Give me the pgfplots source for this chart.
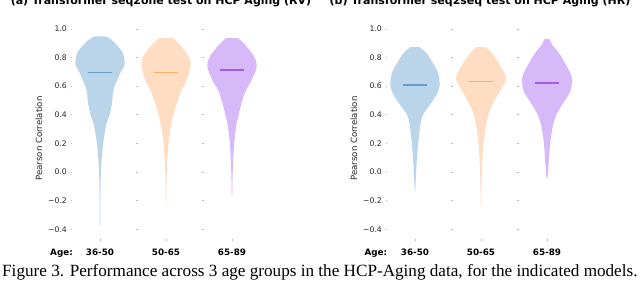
\documentclass[border=0pt]{standalone}
\usepackage{pgfplots}
\pgfplotsset{compat=1.18}
\usepackage{pgfplotstable}
\usepackage{fontspec}
\setmainfont{DejaVu Sans}
\newfontfamily\capfont{Liberation Serif}

\definecolor{vblue}{HTML}{BAD4E9}
\definecolor{vorange}{HTML}{FFDDC2}
\definecolor{vpurple}{HTML}{D7B9F9}
\definecolor{mblue}{HTML}{62A0CA}
\definecolor{morange}{HTML}{FFAE66}
\definecolor{mpurple}{HTML}{A45CF0}

% half widths w in px (1 category = 66 px)
\pgfplotstableread{
y w
0.946 6
0.93 10
0.91 13.5
0.888 16.7
0.865 19.5
0.842 22
0.81 23.8
0.772 24.7
0.74 24.3
0.725 23
0.695 20.5
0.667 18.7
0.632 16.7
0.597 14.5
0.562 13
0.516 12.5
0.47 11.7
0.435 10.7
0.40 9.7
0.365 7.7
0.33 6
0.272 4.7
0.214 3.3
0.156 2.5
0.098 1.7
-0.02 0.8
-0.137 0.5
-0.25 0.4
-0.37 0.3
}\Lone
\pgfplotstableread{
y w
0.935 6.7
0.91 11
0.888 14
0.865 17
0.842 19.3
0.81 22.5
0.772 24.3
0.74 24.7
0.725 24.3
0.695 23.3
0.667 21.8
0.632 20.3
0.597 17.5
0.562 15
0.516 12.7
0.47 10.3
0.40 7.3
0.33 5
0.272 3.8
0.214 2.7
0.098 1.3
-0.02 0.7
-0.137 0.4
-0.205 0.3
}\Ltwo
\pgfplotstableread{
y w
0.935 6
0.91 10
0.888 13
0.865 16
0.842 18.3
0.81 22
0.772 24.3
0.74 24.7
0.725 24.5
0.695 23
0.667 21.2
0.632 19
0.597 16
0.562 13.3
0.516 11
0.47 9
0.40 6.7
0.33 4.3
0.272 3.2
0.214 2.3
0.156 1.7
0.098 1.2
-0.02 0.6
-0.10 0.4
-0.17 0.3
}\Lthree
\pgfplotstableread{
y w
0.872 4.7
0.85 8.5
0.83 11.7
0.80 14.5
0.772 17
0.735 20
0.702 22.5
0.665 24
0.632 24.5
0.61 24.8
0.58 24
0.54 21.7
0.505 18.5
0.47 15
0.445 12.5
0.423 10
0.40 8
0.377 6.7
0.33 5.3
0.272 4.2
0.214 3.3
0.156 2.6
0.098 2
0.04 1.4
-0.02 1
-0.08 0.6
-0.135 0.3
}\Rone
\pgfplotstableread{
y w
0.872 5
0.85 8
0.83 11
0.80 14
0.772 16.7
0.735 20
0.702 22.7
0.68 24.3
0.655 25
0.632 24.5
0.60 22
0.562 18.7
0.516 15
0.47 11.3
0.435 9
0.40 7.3
0.33 5
0.272 3.8
0.214 2.7
0.156 2
0.098 1.5
-0.02 0.8
-0.12 0.5
-0.23 0.3
}\Rtwo
\pgfplotstableread{
y w
0.928 2.5
0.91 3.8
0.888 5
0.865 8
0.842 10.7
0.81 14
0.772 17
0.735 20
0.702 22.5
0.68 24
0.656 25
0.62 24.8
0.59 24.3
0.562 23.3
0.516 19.5
0.47 15
0.435 12
0.40 9.3
0.365 7.5
0.33 6
0.272 4.5
0.214 3.3
0.156 2.6
0.098 2
0.028 1.3
-0.042 0.5
}\Rthree

% make each table a closed outline: right side downwards, left side upwards
\newcommand{\closeviolin}[1]{%
  \pgfplotstablecreatecol[expr={1}]{s}{#1}%
  \pgfplotstablesort[sort key=y]{\tmprev}{#1}%
  \pgfplotstablemodifyeachcolumnelement{s}\of\tmprev\as\cell{\def\cell{-1}}%
  \pgfplotstablevertcat{#1}{\tmprev}%
}
\closeviolin{\Lone}\closeviolin{\Ltwo}\closeviolin{\Lthree}
\closeviolin{\Rone}\closeviolin{\Rtwo}\closeviolin{\Rthree}

\pgfplotsset{
  vstyle/.style={
    x=66pt, y=143.3pt,
    xmin=-0.42, xmax=2.5, ymin=-0.47, ymax=1.0,
    anchor=south west,
    axis line style={draw=none},
    clip=false,
    xtick={0,1,2},
    xticklabels={36-50,50-65,65-89},
    ytick={-0.4,-0.2,0,0.2,0.4,0.6,0.8,1.0},
    yticklabels={−0.4,−0.2,0.0,0.2,0.4,0.6,0.8,1.0},
    tick align=outside, major tick length=1.6pt,
    tick style={gray!55, line width=0.5pt},
    xtick pos=bottom, ytick pos=left,
    yticklabel style={font=\fontsize{7.7}{9}\selectfont, text=black!85, xshift=-0.3pt},
    xticklabel style={font=\fontsize{8.8}{10}\selectfont\bfseries, text=black, yshift=-4pt},
    ylabel={Pearson Correlation},
    ylabel style={font=\fontsize{8.6}{9}\selectfont, text=black!85, at={(rel axis cs:0,0.479)}, anchor=center, yshift=33.5pt},
  }
}

\begin{document}
\begin{tikzpicture}
\path[use as bounding box] (0pt,0pt) rectangle (640pt,-282pt);
\clip (0pt,0pt) rectangle (640pt,-282pt);

% ---- left panel
\begin{axis}[vstyle, at={(72.3pt,-239.4pt)}]
\addplot[fill=vblue, draw=none] table[x expr={0+\thisrow{s}*\thisrow{w}/66}, y=y]{\Lone};
\addplot[fill=vorange, draw=none] table[x expr={1+\thisrow{s}*\thisrow{w}/66}, y=y]{\Ltwo};
\addplot[fill=vpurple, draw=none] table[x expr={2+\thisrow{s}*\thisrow{w}/66}, y=y]{\Lthree};
\addplot[mblue, line width=1.8pt] coordinates {(-0.186,0.695) (0.186,0.695)};
\addplot[morange, line width=1.8pt] coordinates {(0.814,0.695) (1.186,0.695)};
\addplot[mpurple, line width=1.8pt] coordinates {(1.814,0.712) (2.186,0.712)};
\addplot[only marks, mark=-, mark size=0.9pt, gray!55, mark options={line width=0.5pt}] coordinates {
(0.555,-0.4) (0.555,-0.2) (0.555,0) (0.555,0.2) (0.555,0.4) (0.555,0.6) (0.555,0.8) (0.555,1.0)
(1.565,-0.4) (1.565,-0.2) (1.565,0) (1.565,0.2) (1.565,0.4) (1.565,0.6) (1.565,0.8) (1.565,1.0)};
\end{axis}

% ---- right panel
\begin{axis}[vstyle, at={(387.3pt,-239.4pt)}]
\addplot[fill=vblue, draw=none] table[x expr={0+\thisrow{s}*\thisrow{w}/66}, y=y]{\Rone};
\addplot[fill=vorange, draw=none] table[x expr={1+\thisrow{s}*\thisrow{w}/66}, y=y]{\Rtwo};
\addplot[fill=vpurple, draw=none] table[x expr={2+\thisrow{s}*\thisrow{w}/66}, y=y]{\Rthree};
\addplot[mblue, line width=1.8pt] coordinates {(-0.186,0.609) (0.186,0.609)};
\addplot[morange, line width=1.8pt] coordinates {(0.814,0.632) (1.186,0.632)};
\addplot[mpurple, line width=1.8pt] coordinates {(1.814,0.621) (2.186,0.621)};
\addplot[only marks, mark=-, mark size=0.9pt, gray!55, mark options={line width=0.5pt}] coordinates {
(0.565,-0.4) (0.565,-0.2) (0.565,0) (0.565,0.2) (0.565,0.4) (0.565,0.6) (0.565,0.8) (0.565,1.0)
(1.565,-0.4) (1.565,-0.2) (1.565,0) (1.565,0.2) (1.565,0.4) (1.565,0.6) (1.565,0.8) (1.565,1.0)};
\end{axis}

% titles (cut at the top as in the reference)
\node[anchor=base, inner sep=0pt] at (161pt,-4pt) {\fontsize{11}{12}\selectfont\bfseries (a) Transformer seq2one test on HCP Aging (RV)};
\node[anchor=base, inner sep=0pt] at (480pt,-4pt) {\fontsize{11}{12}\selectfont\bfseries (b) Transformer seq2seq test on HCP Aging (HR)};

% Age labels
\node[anchor=base, inner sep=0pt] at (61.5pt,-255pt) {\fontsize{8.8}{10}\selectfont\bfseries Age:};
\node[anchor=base, inner sep=0pt] at (375.8pt,-255pt) {\fontsize{8.8}{10}\selectfont\bfseries Age:};

% caption
\node[anchor=base west, inner sep=0pt] at (2pt,-276.7pt) {\capfont\fontsize{17.15}{20}\selectfont Figure 3. Performance across 3 age groups in the HCP-Aging data, for the indicated models.};
\end{tikzpicture}
\end{document}
